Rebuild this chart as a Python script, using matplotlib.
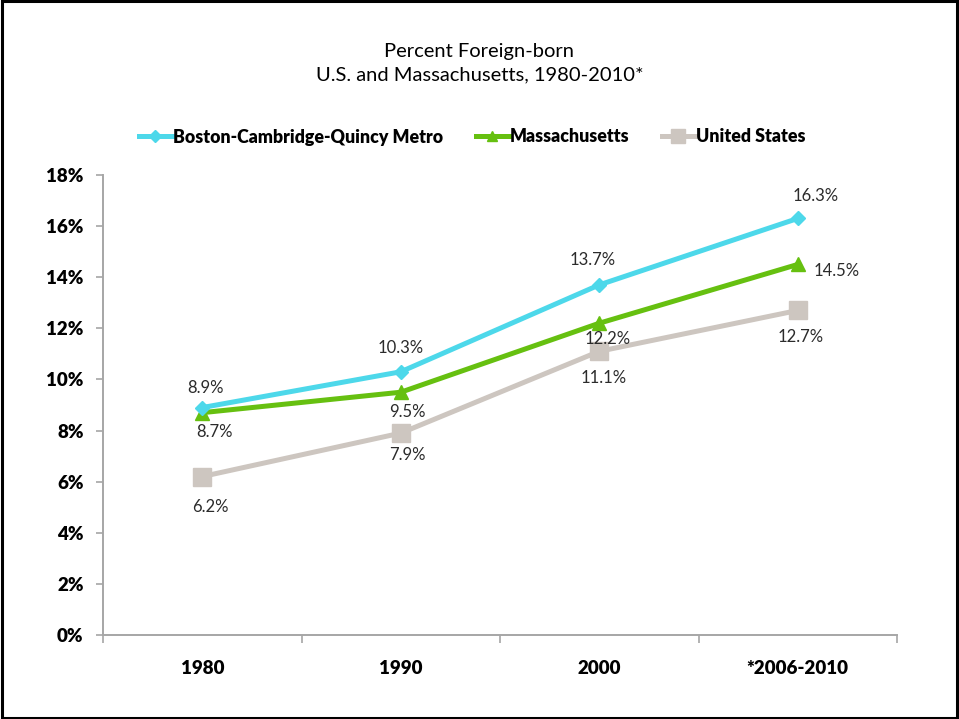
import matplotlib
matplotlib.use('Agg')
import matplotlib.pyplot as plt
from matplotlib.patches import Rectangle
from matplotlib.ticker import FixedLocator

years = ['1980', '1990', '2000', '*2006-2010']
boston = [8.9, 10.3, 13.7, 16.3]
mass = [8.7, 9.5, 12.2, 14.5]
us = [6.2, 7.9, 11.1, 12.7]
yticks = [0, 2, 4, 6, 8, 10, 12, 14, 16, 18]

plt.rcParams['font.family'] = ['Lato', 'DejaVu Sans']

fig = plt.figure(figsize=(9.59, 7.19), dpi=100)
ax = fig.add_axes([103 / 959, 1 - 635 / 719, 794 / 959, 460 / 719])

x = list(range(len(years)))
ax.plot(x, boston, color='#4dd8ea', lw=3.6, marker='D', ms=7.5, label='Boston-Cambridge-Quincy Metro', zorder=4)
ax.plot(x, mass, color='#66c010', lw=3.6, marker='^', ms=10, label='Massachusetts', zorder=3)
ax.plot(x, us, color='#cdc6c0', lw=3.6, marker='s', ms=13, label='United States', zorder=2)

# data labels (offsets in points)
lab_kw = dict(textcoords='offset points', ha='center', va='center', fontsize=12, color='#2b2b2b')
boston_off = [(2, 14), (0, 17), (-5, 18), (13, 16)]
mass_off = [(9, -14), (5, -14), (6, -11), (28, -5)]
us_off = [(6, -22), (5, -16), (3, -19), (2, -19)]
for series, offs in [(boston, boston_off), (mass, mass_off), (us, us_off)]:
    for i, v in enumerate(series):
        ax.annotate('%.1f%%' % v, (i, v), xytext=offs[i], **lab_kw)

ax.set_xlim(-0.5, len(years) - 0.5)
ax.set_ylim(0, 18)
ax.set_yticks(yticks)
ax.set_yticklabels(['%d%%' % t for t in yticks], fontsize=13.5, fontweight='heavy')
ax.set_xticks(x)
ax.set_xticklabels(years, fontsize=13.5, fontweight='heavy')
ax.xaxis.set_minor_locator(FixedLocator([i - 0.5 for i in range(len(years) + 1)]))
ax.tick_params(axis='x', which='major', length=0, pad=18)
ax.tick_params(axis='x', which='minor', length=6, width=1.2, color='#a6a6a6', direction='out')
ax.tick_params(axis='y', length=5, width=1.2, color='#a6a6a6', pad=9)

for s in ['top', 'right']:
    ax.spines[s].set_visible(False)
for s in ['left', 'bottom']:
    ax.spines[s].set_color('#a6a6a6')
    ax.spines[s].set_linewidth(1.4)

fig.text(479.5 / 959, 1 - 52 / 719, 'Percent Foreign-born', ha='center', va='center', fontsize=14.5)
fig.text(479.5 / 959, 1 - 75 / 719, 'U.S. and Massachusetts, 1980-2010*', ha='center', va='center', fontsize=14.5)

leg = ax.legend(loc='center', bbox_to_anchor=(472 / 959, 1 - 137 / 719), bbox_transform=fig.transFigure,
                ncol=3, frameon=False, handlelength=1.85, handletextpad=0.05, columnspacing=1.85,
                markerscale=0.75, prop={'weight': 'heavy', 'size': 12.8})

fig.patches.append(Rectangle((0.002, 0.002), 0.996, 0.996, transform=fig.transFigure,
                             fill=False, edgecolor='black', lw=2.2))

fig.savefig('out.png', dpi=100)
